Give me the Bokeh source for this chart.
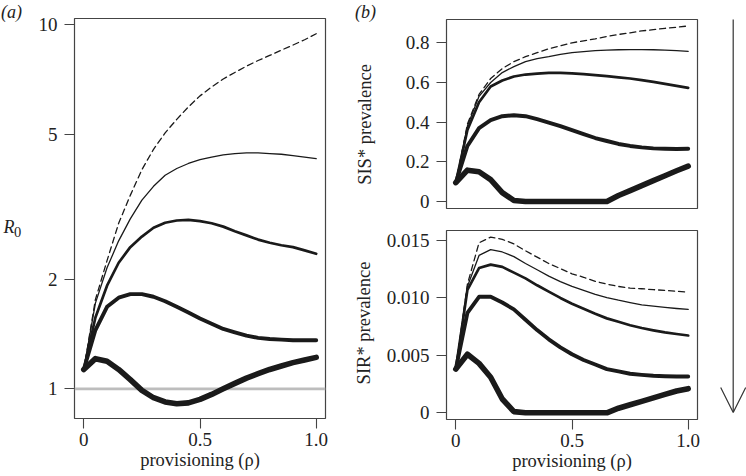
import math
from bokeh.plotting import figure
from bokeh.layouts import row, column
from bokeh.models import Range1d, FixedTicker, Span, Arrow, OpenHead
from bokeh.core.properties import value
from bokeh.embed import file_html
from bokeh.resources import INLINE

# ---------------- data ----------------
rho = [0.00, 0.05, 0.10, 0.15, 0.20, 0.25, 0.30, 0.35, 0.40, 0.45, 0.50,
       0.55, 0.60, 0.65, 0.70, 0.75, 0.80, 0.85, 0.90, 0.95, 1.00]

# panel (a): R0 (log scale)
r0_a = [1.13, 1.76, 2.25, 2.85, 3.40, 4.00, 4.55, 5.05, 5.50, 5.95, 6.38,
        6.75, 7.10, 7.40, 7.70, 7.98, 8.24, 8.52, 8.80, 9.10, 9.45]
r0_b = [1.13, 1.72, 2.15, 2.55, 2.93, 3.30, 3.60, 3.86, 4.03, 4.16, 4.26,
        4.33, 4.39, 4.43, 4.45, 4.45, 4.43, 4.41, 4.37, 4.33, 4.29]
r0_c = [1.13, 1.57, 1.92, 2.22, 2.45, 2.62, 2.77, 2.86, 2.90, 2.91, 2.89,
        2.85, 2.79, 2.71, 2.64, 2.57, 2.52, 2.48, 2.45, 2.40, 2.35]
r0_d = [1.13, 1.45, 1.68, 1.78, 1.82, 1.82, 1.79, 1.74, 1.68, 1.62, 1.56,
        1.51, 1.46, 1.43, 1.40, 1.38, 1.37, 1.365, 1.36, 1.36, 1.36]
r0_e = [1.13, 1.21, 1.19, 1.13, 1.06, 0.99, 0.945, 0.92, 0.91, 0.915, 0.935,
        0.965, 1.00, 1.035, 1.07, 1.10, 1.13, 1.155, 1.18, 1.20, 1.22]

# panel (b) top: SIS* prevalence
sis_a = [0.095, 0.39, 0.54, 0.62, 0.67, 0.705, 0.73, 0.75, 0.77, 0.785, 0.80,
         0.81, 0.82, 0.832, 0.842, 0.85, 0.86, 0.866, 0.873, 0.878, 0.885]
sis_b = [0.095, 0.38, 0.53, 0.60, 0.65, 0.68, 0.705, 0.72, 0.73, 0.742, 0.75,
         0.755, 0.76, 0.763, 0.765, 0.766, 0.766, 0.765, 0.763, 0.76, 0.757]
sis_c = [0.095, 0.36, 0.50, 0.58, 0.61, 0.63, 0.64, 0.645, 0.648, 0.648, 0.646,
         0.642, 0.637, 0.632, 0.626, 0.62, 0.612, 0.603, 0.593, 0.583, 0.573]
sis_d = [0.095, 0.28, 0.37, 0.41, 0.43, 0.435, 0.43, 0.415, 0.398, 0.38, 0.36,
         0.34, 0.32, 0.305, 0.29, 0.28, 0.273, 0.268, 0.266, 0.265, 0.266]
sis_e = [0.095, 0.158, 0.15, 0.11, 0.045, 0.005, 0.0, 0.0, 0.0, 0.0, 0.0,
         0.0, 0.0, 0.0, 0.03, 0.055, 0.08, 0.105, 0.13, 0.155, 0.178]

# panel (b) bottom: SIR* prevalence
sir_a = [0.0038, 0.0112, 0.0148, 0.0153, 0.0151, 0.0147, 0.0141, 0.01355, 0.0130, 0.01255, 0.0121,
         0.0118, 0.01145, 0.0112, 0.0110, 0.01085, 0.0108, 0.01072, 0.01065, 0.01058, 0.0105]
sir_b = [0.0038, 0.0110, 0.0137, 0.0142, 0.0140, 0.0136, 0.0130, 0.01245, 0.0119, 0.01142, 0.0110,
         0.01065, 0.0103, 0.01003, 0.0098, 0.0096, 0.0094, 0.00928, 0.00918, 0.00908, 0.0090]
sir_c = [0.0038, 0.0107, 0.0126, 0.0129, 0.0127, 0.0122, 0.0117, 0.0111, 0.01055, 0.0100, 0.0095,
         0.00905, 0.00862, 0.00822, 0.00792, 0.00762, 0.00738, 0.00718, 0.0070, 0.00686, 0.00673]
sir_d = [0.0038, 0.0087, 0.0101, 0.0101, 0.0096, 0.0090, 0.0081, 0.0072, 0.0064, 0.0057, 0.0051,
         0.0046, 0.0042, 0.0038, 0.0036, 0.0034, 0.0033, 0.00322, 0.00318, 0.00316, 0.00316]
sir_e = [0.0038, 0.0051, 0.0043, 0.0031, 0.0012, 0.0001, 0.0, 0.0, 0.0, 0.0, 0.0,
         0.0, 0.0, 0.0, 0.0004, 0.0007, 0.0010, 0.0013, 0.0016, 0.0019, 0.0021]

x_ticks = [0, 0.5, 1]
x_tick_labels = ["0", "0.5", "1.0"]
r0_ticks = [1, 2, 5, 10]
r0_tick_labels = ["1", "2", "5", "10"]
sis_ticks = [0, 0.2, 0.4, 0.6, 0.8]
sis_tick_labels = ["0", "0.2", "0.4", "0.6", "0.8"]
sir_ticks = [0, 0.005, 0.01, 0.015]
sir_tick_labels = ["0", "0.005", "0.010", "0.015"]

x_label = "provisioning (\u03c1)"

# ---------------- style ----------------
FONT = "Liberation Serif"
FS_TICK = "19px"
FS_LAB = "18.5px"
INK = "#1a1a1a"
FRAME = "#444444"
TXT = "#222222"
widths = [1.3, 1.3, 2.7, 3.9, 5.6]
dashes = ["6 4", "solid", "solid", "solid", "solid"]
W, H = 746, 476


def no_align(p):
    try:
        p.frame_align = False
    except Exception:
        pass


def style(p):
    no_align(p)
    p.outline_line_color = FRAME
    p.outline_line_width = 1.2
    p.grid.visible = False
    p.background_fill_color = "white"
    p.border_fill_color = "white"
    for ax in p.axis:
        ax.axis_line_color = None
        ax.major_tick_in = 0
        ax.major_tick_out = 10
        ax.major_tick_line_color = FRAME
        ax.major_tick_line_width = 1.1
        ax.minor_tick_line_color = None
        ax.major_label_text_font = FONT
        ax.major_label_text_font_size = FS_TICK
        ax.major_label_text_color = TXT
        ax.axis_label_text_font = FONT
        ax.axis_label_text_font_size = FS_LAB
        ax.axis_label_text_font_style = "normal"
        ax.axis_label_text_color = TXT
    for ax in p.xaxis:
        ax.major_label_standoff = 4
        ax.axis_label_standoff = 1
    for ax in p.yaxis:
        ax.major_label_standoff = 7


def set_ticks(ax, ticks, labels):
    ax.ticker = FixedTicker(ticks=ticks, minor_ticks=[])
    ax.major_label_overrides = {t: l for t, l in zip(ticks, labels)}


def add_lines(p, series):
    for ys, w, d in zip(series, widths, dashes):
        p.line(rho, ys, line_color=INK, line_width=w, line_dash=d,
               line_join="round", line_cap="round")


def strip(x0, width):
    """A bare figure whose ranges are page pixel coordinates (for free text / arrow)."""
    t = figure(width=width, height=H, x_range=Range1d(x0, x0 + width),
               y_range=Range1d(H, 0), x_axis_location=None, y_axis_location=None,
               output_backend="svg", toolbar_location=None, title=None,
               min_border=0)
    no_align(t)
    t.outline_line_color = None
    t.grid.visible = False
    t.border_fill_color = "white"
    t.background_fill_color = "white"
    return t


def put_text(t, x, y, s, size=FS_LAB, style_="normal", angle=0,
             align="left", baseline="middle"):
    t.text(x=[x], y=[y], text=[s], text_font=value(FONT),
           text_font_size=value(size), text_font_style=style_,
           text_color=TXT, angle=angle, text_align=align,
           text_baseline=baseline)


# ---------------- left strip: (a), R0 ----------------
ta = strip(0, 24)
put_text(ta, 0.5, 11.7, "(a)", size="18px", style_="italic")
put_text(ta, 3.0, 226.7, "R", size="18px", style_="italic", baseline="alphabetic")
put_text(ta, 13.6, 231.7, "0", size="14.5px", baseline="alphabetic")

# ---------------- panel (a) ----------------
pa = figure(width=316, height=H, x_range=Range1d(-0.04, 1.04),
            y_range=Range1d(0.8287, 10.41), y_axis_type="log",
            output_backend="svg", toolbar_location=None, title=None,
            min_border_left=50, min_border_right=15, min_border_top=18,
            min_border_bottom=58)
style(pa)
set_ticks(pa.xaxis[0], x_ticks, x_tick_labels)
set_ticks(pa.yaxis[0], r0_ticks, r0_tick_labels)
pa.xaxis[0].axis_label = x_label
pa.add_layout(Span(location=1, dimension="width", line_color="#bdbdbd",
                   line_width=2.7, level="underlay"))
add_lines(pa, [r0_a, r0_b, r0_c, r0_d, r0_e])

# ---------------- middle strip: (b), y labels ----------------
tb = strip(340, 40)
put_text(tb, 354.5, 11.7, "(b)", size="18px", style_="italic")
put_text(tb, 364, 124, "SIS* prevalence", angle=math.pi / 2,
         align="center", baseline="middle")
put_text(tb, 363.5, 322.5, "SIR* prevalence", angle=math.pi / 2,
         align="center", baseline="middle")

# ---------------- panel (b) top ----------------
pb1 = figure(width=336, height=219, x_range=Range1d(-0.04, 1.04),
             y_range=Range1d(-0.0353, 0.9174), x_axis_location=None,
             output_backend="svg", toolbar_location=None, title=None,
             min_border_left=66, min_border_right=19, min_border_top=19,
             min_border_bottom=11)
style(pb1)
set_ticks(pb1.yaxis[0], sis_ticks, sis_tick_labels)
add_lines(pb1, [sis_a, sis_b, sis_c, sis_d, sis_e])

# ---------------- panel (b) bottom ----------------
pb2 = figure(width=336, height=257, x_range=Range1d(-0.04, 1.04),
             y_range=Range1d(-0.000583, 0.01587),
             output_backend="svg", toolbar_location=None, title=None,
             min_border_left=66, min_border_right=19, min_border_top=11,
             min_border_bottom=57)
style(pb2)
set_ticks(pb2.xaxis[0], x_ticks, x_tick_labels)
set_ticks(pb2.yaxis[0], sir_ticks, sir_tick_labels)
pb2.xaxis[0].axis_label = x_label
add_lines(pb2, [sir_a, sir_b, sir_c, sir_d, sir_e])

# ---------------- arrow strip ----------------
parr = strip(716, 30)
parr.add_layout(Arrow(x_start=732.7, y_start=19, x_end=732.7, y_end=412,
                      line_color="#333333", line_width=1.2,
                      end=OpenHead(size=25, line_color="#333333", line_width=1.2)))

layout = row(ta, pa, tb, column(pb1, pb2), parr)
open("out.html", "w").write(file_html(layout, INLINE))
